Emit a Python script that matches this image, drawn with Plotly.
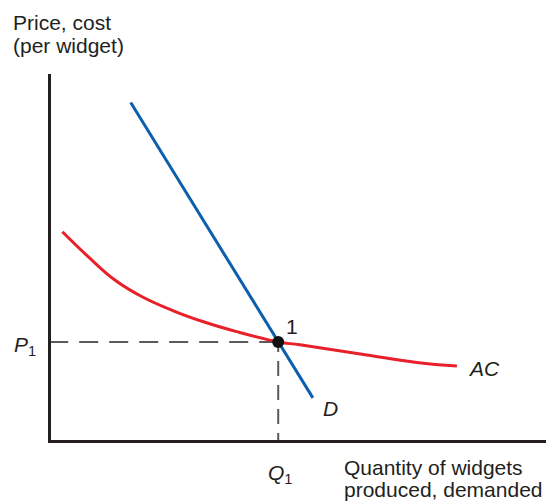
import plotly.graph_objects as go

# quantities and prices (axes run 0..10 in both directions)
q1 = 4.59
p1 = 2.68

demand_q = [1.61, 5.29]
demand_p = [9.22, 1.15]

ac_q = [0.23, 0.75, 1.29, 1.83, 2.47, 3.08, 3.75, 4.59, 5.03, 6.38, 7.39, 8.20]
ac_p = [5.69, 5.01, 4.37, 3.92, 3.53, 3.23, 2.96, 2.68, 2.60, 2.32, 2.12, 2.02]

RED = "#e8202a"
BLUE = "#0b5fad"
INK = "#231f20"
DASH = "#5a5a5a"
FONT = "Liberation Sans, Arial, Helvetica, sans-serif"

fig = go.Figure()

# dashed guide lines (run a little past the axes like ticks)
fig.add_trace(go.Scatter(
    x=[q1, -0.16], y=[p1, p1], mode="lines",
    line=dict(color=DASH, width=2, dash="19px,11px"),
    cliponaxis=False, hoverinfo="skip"
))
fig.add_trace(go.Scatter(
    x=[q1, q1], y=[-0.22, p1], mode="lines",
    line=dict(color=DASH, width=2, dash="15px,9px"),
    cliponaxis=False, hoverinfo="skip"
))

# average cost curve
fig.add_trace(go.Scatter(
    x=ac_q, y=ac_p, mode="lines",
    line=dict(color=RED, width=3, shape="spline", smoothing=1.2),
    cliponaxis=False, hoverinfo="skip"
))

# demand
fig.add_trace(go.Scatter(
    x=demand_q, y=demand_p, mode="lines",
    line=dict(color=BLUE, width=3),
    cliponaxis=False, hoverinfo="skip"
))

# equilibrium point
fig.add_trace(go.Scatter(
    x=[q1], y=[p1], mode="markers",
    marker=dict(color="#111111", size=12),
    cliponaxis=False, hoverinfo="skip"
))

def label(x, y, text, xanchor="left", yanchor="middle", italic=False):
    # x, y given in the same 0..10 units as the axes, placed on paper
    if italic:
        text = f"<i>{text}</i>"
    fig.add_annotation(
        x=x / 10, y=y / 10, xref="paper", yref="paper", text=text, showarrow=False,
        xanchor=xanchor, yanchor=yanchor, align="left",
        font=dict(family=FONT, size=21, color=INK)
    )

label(-0.80, 11.40, "Price, cost")
label(-0.80, 10.77, "(per widget)")
label(5.87, -0.74, "Quantity of widgets")
label(5.87, -1.36, "produced, demanded")
label(8.38, 1.94, "AC", italic=True)
label(5.64, 0.87, "D", italic=True, xanchor="center")
label(4.87, 3.11, "1", xanchor="center")
label(-0.78, p1 - 0.12, "<i>P</i><sub>1</sub>")
label(4.34, -0.92, "<i>Q</i><sub>1</sub>")

axis = dict(
    range=[0, 10], showline=True, linewidth=3, linecolor=INK,
    showgrid=False, zeroline=False, showticklabels=False, ticks=""
)

fig.update_layout(
    width=546, height=503,
    margin=dict(l=51, r=0, t=74, b=63),
    paper_bgcolor="white", plot_bgcolor="white",
    showlegend=False,
    xaxis=axis, yaxis=axis,
    font=dict(family=FONT, color=INK)
)

fig.write_html(
    "out.html",
    config={"displayModeBar": False},
    post_script="document.body.style.margin='0';"
)
